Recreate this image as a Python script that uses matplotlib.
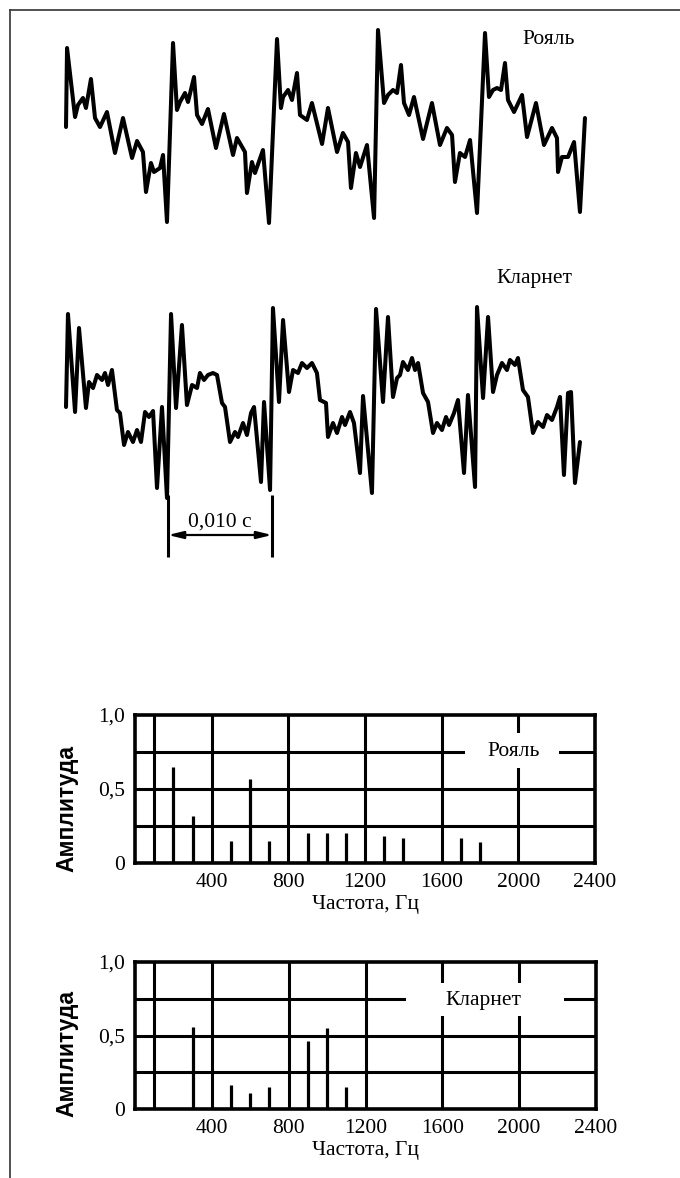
"""Waveforms and spectra of piano and clarinet tones."""

import matplotlib

matplotlib.use("Agg")
import matplotlib.pyplot as plt
from matplotlib.lines import Line2D
from matplotlib.patches import Rectangle

plt.rcParams["font.family"] = ["Liberation Serif", "DejaVu Serif"]

FIG_W, FIG_H = 680, 1178

# oscillograms: time, ms / relative amplitude
piano_t = [
    0.0, 0.1, 0.87, 1.15, 1.63, 1.92, 2.40, 2.79, 3.27, 3.94, 4.71, 5.48,
    6.35, 6.83, 7.40, 7.69, 8.17, 8.46, 9.04, 9.33, 9.71,
    10.29, 10.67, 10.96, 11.44, 11.73, 12.31, 12.60, 13.08, 13.65, 14.42,
    15.19, 16.06, 16.44, 17.21, 17.40, 17.88, 18.17, 18.94, 19.52,
    20.29, 20.67, 20.87, 21.35, 21.73, 22.21, 22.50, 23.17, 23.65, 24.62,
    25.19, 26.06, 26.63, 27.12, 27.40, 27.88, 28.27, 28.94, 29.62,
    30.00, 30.58, 30.96, 31.44, 31.83, 32.21, 32.50, 32.98, 33.46, 34.33,
    35.19, 35.96, 36.63, 37.12, 37.40, 37.88, 38.37, 38.85, 39.52,
    40.29, 40.67, 41.06, 41.44, 41.83, 42.21, 42.50, 43.08, 43.85, 44.33,
    45.19, 45.96, 46.73, 47.21, 47.31, 47.69, 48.27, 48.85, 49.42, 49.90,
]
piano_a = [
    -0.01, 0.78, 0.09, 0.21, 0.28, 0.18, 0.47, 0.08, -0.01, 0.14, -0.27, 0.08,
    -0.32, -0.15, -0.26, -0.66, -0.37, -0.46, -0.42, -0.29, -0.96,
    0.83, 0.16, 0.24, 0.33, 0.24, 0.49, 0.11, 0.02, 0.17, -0.22,
    0.12, -0.29, -0.12, -0.26, -0.67, -0.36, -0.47, -0.24, -0.97,
    0.87, 0.18, 0.29, 0.36, 0.26, 0.53, 0.11, 0.06, 0.23, -0.18,
    0.18, -0.26, -0.07, -0.16, -0.62, -0.27, -0.41, -0.19, -0.92,
    0.96, 0.23, 0.31, 0.36, 0.33, 0.61, 0.23, 0.11, 0.29, -0.13,
    0.23, -0.19, -0.02, -0.09, -0.56, -0.27, -0.31, -0.14, -0.87,
    0.93, 0.29, 0.36, 0.38, 0.36, 0.63, 0.26, 0.14, 0.31, -0.11,
    0.23, -0.19, -0.02, -0.12, -0.46, -0.31, -0.31, -0.16, -0.86, 0.08,
]

clarinet_t = [
    0.0, 0.19, 0.87, 1.25, 1.92, 2.21, 2.60, 2.98, 3.46, 3.75, 4.04, 4.42,
    4.90, 5.19, 5.58, 5.96, 6.44, 6.83, 7.21, 7.60, 7.98, 8.37, 8.75, 9.23,
    9.71,
    10.10, 10.58, 11.15, 11.63, 12.12, 12.60, 12.88, 13.27, 13.65, 14.13,
    14.52, 15.00, 15.29, 15.77, 16.25, 16.54, 17.02, 17.40, 17.79, 18.08,
    18.75, 19.04, 19.62,
    19.90, 20.48, 20.87, 21.44, 21.83, 22.31, 22.69, 23.17, 23.65, 24.13,
    24.42, 25.00, 25.19, 25.67, 26.06, 26.54, 26.83, 27.31, 27.69, 28.27,
    28.56, 29.42,
    29.81, 30.48, 30.96, 31.44, 31.83, 32.12, 32.40, 32.88, 33.27, 33.56,
    33.85, 34.33, 34.81, 35.29, 35.67, 36.15, 36.54, 36.83, 37.31, 37.69,
    38.27, 38.65, 39.33,
    39.52, 40.10, 40.58, 41.06, 41.44, 41.92, 42.40, 42.69, 43.17, 43.46,
    43.94, 44.42, 44.90, 45.38, 45.87, 46.25, 46.73, 47.21, 47.50, 47.88,
    48.27, 48.56, 48.94, 49.42,
]
clarinet_a = [
    -0.07, 0.86, -0.12, 0.72, -0.08, 0.18, 0.12, 0.25, 0.20, 0.27, 0.15, 0.30,
    -0.10, -0.13, -0.45, -0.32, -0.42, -0.30, -0.42, -0.12, -0.17, -0.11, -0.88, -0.07,
    -0.98,
    0.86, -0.08, 0.75, -0.05, 0.15, 0.12, 0.27, 0.20, 0.25, 0.27,
    0.25, -0.03, -0.07, -0.42, -0.32, -0.37, -0.23, -0.35, -0.13, -0.07,
    -0.82, -0.02, -0.90,
    0.92, -0.02, 0.80, 0.08, 0.30, 0.27, 0.37, 0.32, 0.37, 0.27,
    0.00, -0.03, -0.37, -0.23, -0.33, -0.17, -0.25, -0.12, -0.23, -0.73,
    0.04, -0.93,
    0.91, -0.02, 0.83, 0.03, 0.22, 0.25, 0.38, 0.30, 0.42, 0.30,
    0.37, 0.07, -0.02, -0.33, -0.23, -0.30, -0.17, -0.25, -0.13, 0.00,
    -0.73, 0.05, -0.87,
    0.93, 0.02, 0.83, 0.08, 0.25, 0.37, 0.30, 0.40, 0.35, 0.42,
    0.10, 0.03, -0.33, -0.22, -0.27, -0.15, -0.20, -0.07, 0.03, -0.75,
    0.07, 0.08, -0.83, -0.42,
]

period_start, period_end = 9.81, 19.81  # ms
period_label = "0,010 с"

# spectra: frequency, Hz / amplitude
piano_f = [200, 300, 500, 600, 700, 900, 1000, 1100, 1300, 1400, 1700, 1800]
piano_amp = [0.65, 0.32, 0.15, 0.57, 0.15, 0.20, 0.20, 0.20, 0.18, 0.17, 0.17, 0.14]
clarinet_f = [300, 500, 600, 700, 900, 1000, 1100]
clarinet_amp = [0.56, 0.16, 0.11, 0.15, 0.46, 0.55, 0.15]

freq_ticks = [400, 800, 1200, 1600, 2000, 2400]
amp_ticks = [0, 0.5, 1.0]
amp_tick_labels = ["0", "0,5", "1,0"]
freq_grid = [100, 400, 800, 1200, 1600, 2000]
amp_grid = [0.25, 0.5, 0.75]


def px_axes(fig, x0, y0, x1, y1):
    """Add axes from a pixel box (top-left origin)."""
    return fig.add_axes(
        [x0 / FIG_W, 1 - y1 / FIG_H, (x1 - x0) / FIG_W, (y1 - y0) / FIG_H]
    )


def spectrum(ax, freqs, amps, name, name_xy, gap):
    ax.set_xlim(0, 2400)
    ax.set_ylim(0, 1.0)
    ax.set_axisbelow(True)
    for f in freq_grid:
        ax.axvline(f, color="black", lw=2.2, zorder=0.5)
    for a in amp_grid:
        ax.axhline(a, color="black", lw=2.2, zorder=0.5)
    ax.add_patch(
        Rectangle((gap[0], gap[2]), gap[1] - gap[0], gap[3] - gap[2],
                  facecolor="white", edgecolor="none", zorder=1)
    )
    ax.vlines(freqs, 0, amps, color="black", lw=2.3, zorder=2)
    ax.text(name_xy[0], name_xy[1], name, fontsize=15.5, ha="center",
            va="center", zorder=3)
    for s in ax.spines.values():
        s.set_linewidth(2.6)
    ax.set_xticks(freq_ticks)
    ax.set_yticks(amp_ticks, amp_tick_labels)
    ax.tick_params(length=0, labelsize=15.5, pad=7)
    ax.set_xlabel("Частота, Гц", fontsize=15.5, labelpad=2)
    ax.set_ylabel("Амплитуда", fontsize=16.5, fontweight="bold",
                  family=["Liberation Sans Narrow", "Liberation Sans"])


fig = plt.figure(figsize=(FIG_W / 100, FIG_H / 100), dpi=100)

# page frame
fig.add_artist(Line2D([10 / FIG_W, 1], [1 - 10 / FIG_H] * 2,
                      transform=fig.transFigure, color="#333333", lw=1.2))
fig.add_artist(Line2D([10 / FIG_W] * 2, [0, 1 - 10 / FIG_H],
                      transform=fig.transFigure, color="#333333", lw=1.2))

wave_style = dict(color="black", lw=2.9, solid_joinstyle="round",
                  solid_capstyle="round")

ax_p = px_axes(fig, 56, 20, 606, 232)
ax_p.plot(piano_t, piano_a, **wave_style)
ax_p.set_xlim(-10 / 10.4, 540 / 10.4)
ax_p.set_ylim(-1.06, 1.06)
ax_p.text(46.4, 0.86, "Рояль", fontsize=15.5, ha="center", va="center")
ax_p.axis("off")

ax_c = px_axes(fig, 56, 255, 606, 570)
ax_c.plot(clarinet_t, clarinet_a, **wave_style)
ax_c.set_xlim(-10 / 10.4, 540 / 10.4)
ax_c.set_ylim(-1.70, 1.45)
ax_c.text(45.0, 1.22, "Кларнет", fontsize=15.5, ha="center", va="center")
ax_c.vlines([period_start, period_end], -1.57, -0.95, color="black", lw=2.2)
ax_c.annotate("", xy=(period_end, -1.35), xytext=(period_start, -1.35),
              arrowprops=dict(arrowstyle="<|-|>,head_length=0.9,head_width=0.22",
                              color="black", lw=1.6, shrinkA=0, shrinkB=0))
ax_c.text((period_start + period_end) / 2, -1.22, period_label, fontsize=15.5,
          ha="center", va="center")
ax_c.axis("off")

ax1 = px_axes(fig, 135, 715, 595, 863)
spectrum(ax1, piano_f, piano_amp, "Рояль", (1974, 0.75), (1722, 2210, 0.64, 0.88))
ax1.yaxis.set_label_coords(-0.122, 0.37)

ax2 = px_axes(fig, 135, 962, 596, 1109)
spectrum(ax2, clarinet_f, clarinet_amp, "Кларнет", (1816, 0.74),
         (1412, 2236, 0.63, 0.86))
ax2.yaxis.set_label_coords(-0.122, 0.38)

fig.savefig("out.png", dpi=100)
